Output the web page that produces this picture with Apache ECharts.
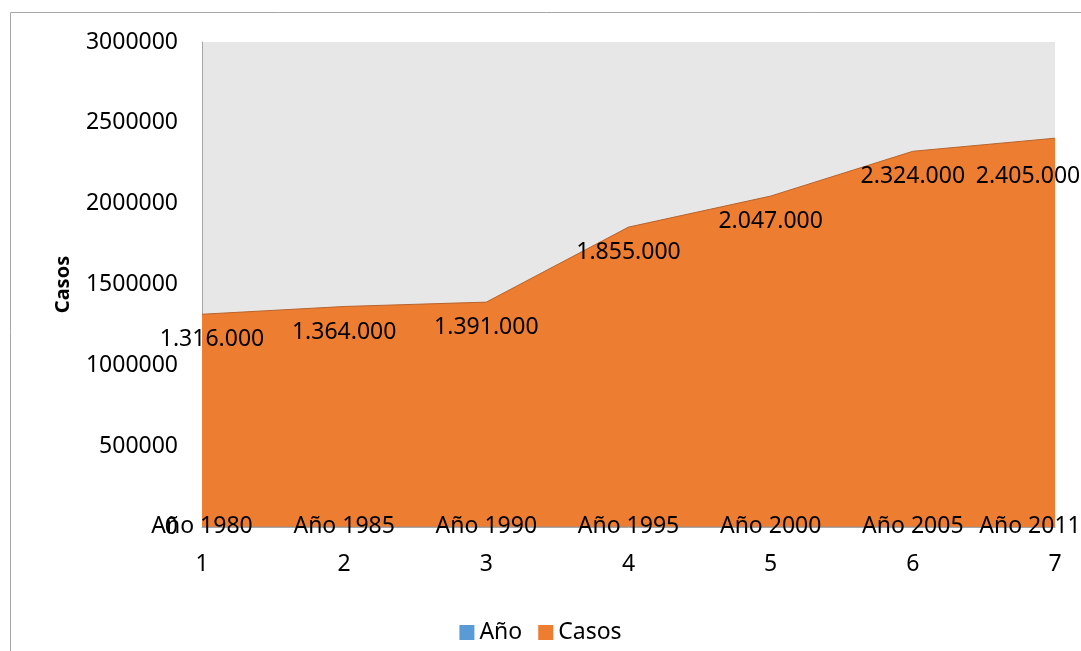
<!DOCTYPE html>
<html>
<head>
<meta charset="utf-8">
<script src="https://cdn.jsdelivr.net/npm/echarts@6/dist/echarts.min.js"></script>
<style>
  html, body { margin: 0; padding: 0; background: #fff; }
  #chart { width: 1081px; height: 651px; }
</style>
</head>
<body>
<div id="chart"></div>
<script>
// chart data
const categories = ['1', '2', '3', '4', '5', '6', '7'];
const years = [1980, 1985, 1990, 1995, 2000, 2005, 2011];
const cases = [1316000, 1364000, 1391000, 1855000, 2047000, 2324000, 2405000];

const font = 'Noto Sans';
const orange = '#ED7D31';
const blue = '#5B9BD5';

// Excel style dotted thousands
const fmtThousands = v => String(v).replace(/\B(?=(\d{3})+(?!\d))/g, '.');

const chart = echarts.init(document.getElementById('chart'));

const last = cases.length - 1;

const caseData = cases.map((v, i) => {
  const item = { value: v };
  // nudge edge labels back inside the chart like the original
  if (i === 0) item.label = { offset: [10, 0] };
  if (i === last) item.label = { offset: [-27, 13] };
  return item;
});

const yearData = years.map((v, i) => {
  const item = { value: v };
  if (i === last) item.label = { offset: [-25, 0] };
  return item;
});

const option = {
  animation: false,
  textStyle: { fontFamily: font },
  graphic: [{
    type: 'rect',
    z: -10,
    shape: { x: 10.5, y: 12.5, width: 1100, height: 700 },
    style: { fill: 'none', stroke: '#a6a6a6', lineWidth: 1 }
  }],
  grid: {
    left: 202,
    right: 26,
    top: 42,
    bottom: 124,
    show: true,
    backgroundColor: '#e7e7e7',
    borderWidth: 0
  },
  legend: {
    bottom: 2,
    left: 'center',
    icon: 'rect',
    itemWidth: 15,
    itemHeight: 15,
    itemGap: 16,
    textStyle: { fontFamily: font, fontSize: 23, color: '#000' },
    data: ['Año', 'Casos']
  },
  xAxis: {
    type: 'category',
    boundaryGap: false,
    data: categories,
    axisLine: { show: true, lineStyle: { color: '#a6a6a6', width: 1 } },
    axisTick: { show: false },
    axisLabel: { color: '#000', fontSize: 23, fontFamily: font, margin: 26 }
  },
  yAxis: {
    type: 'value',
    min: 0,
    max: 3000000,
    interval: 500000,
    name: 'Casos',
    nameLocation: 'middle',
    nameGap: 129,
    nameTextStyle: { color: '#000', fontSize: 20, fontWeight: 'bold', fontFamily: font },
    axisLine: { show: true, lineStyle: { color: '#a6a6a6', width: 1 } },
    axisTick: { show: false },
    splitLine: { show: false },
    axisLabel: {
      color: '#000',
      fontSize: 23,
      fontFamily: font,
      margin: 24,
      formatter: v => String(v)
    }
  },
  series: [
    {
      name: 'Año',
      type: 'line',
      data: yearData,
      symbol: 'circle',
      symbolSize: 0.1,
      itemStyle: { color: blue },
      lineStyle: { width: 0 },
      areaStyle: { color: blue, opacity: 1 },
      label: {
        show: true,
        position: 'inside',
        formatter: p => 'Año ' + p.value,
        color: '#000',
        fontSize: 23,
        fontFamily: font
      },
      z: 3
    },
    {
      name: 'Casos',
      type: 'line',
      data: caseData,
      symbol: 'circle',
      symbolSize: 0.1,
      itemStyle: { color: orange },
      lineStyle: { color: '#b8642c', width: 1 },
      areaStyle: { color: orange, opacity: 1 },
      label: {
        show: true,
        position: 'bottom',
        distance: 14,
        formatter: p => fmtThousands(p.value),
        color: '#000',
        fontSize: 23,
        fontFamily: font
      },
      z: 2
    }
  ]
};

chart.setOption(option);
</script>
</body>
</html>
